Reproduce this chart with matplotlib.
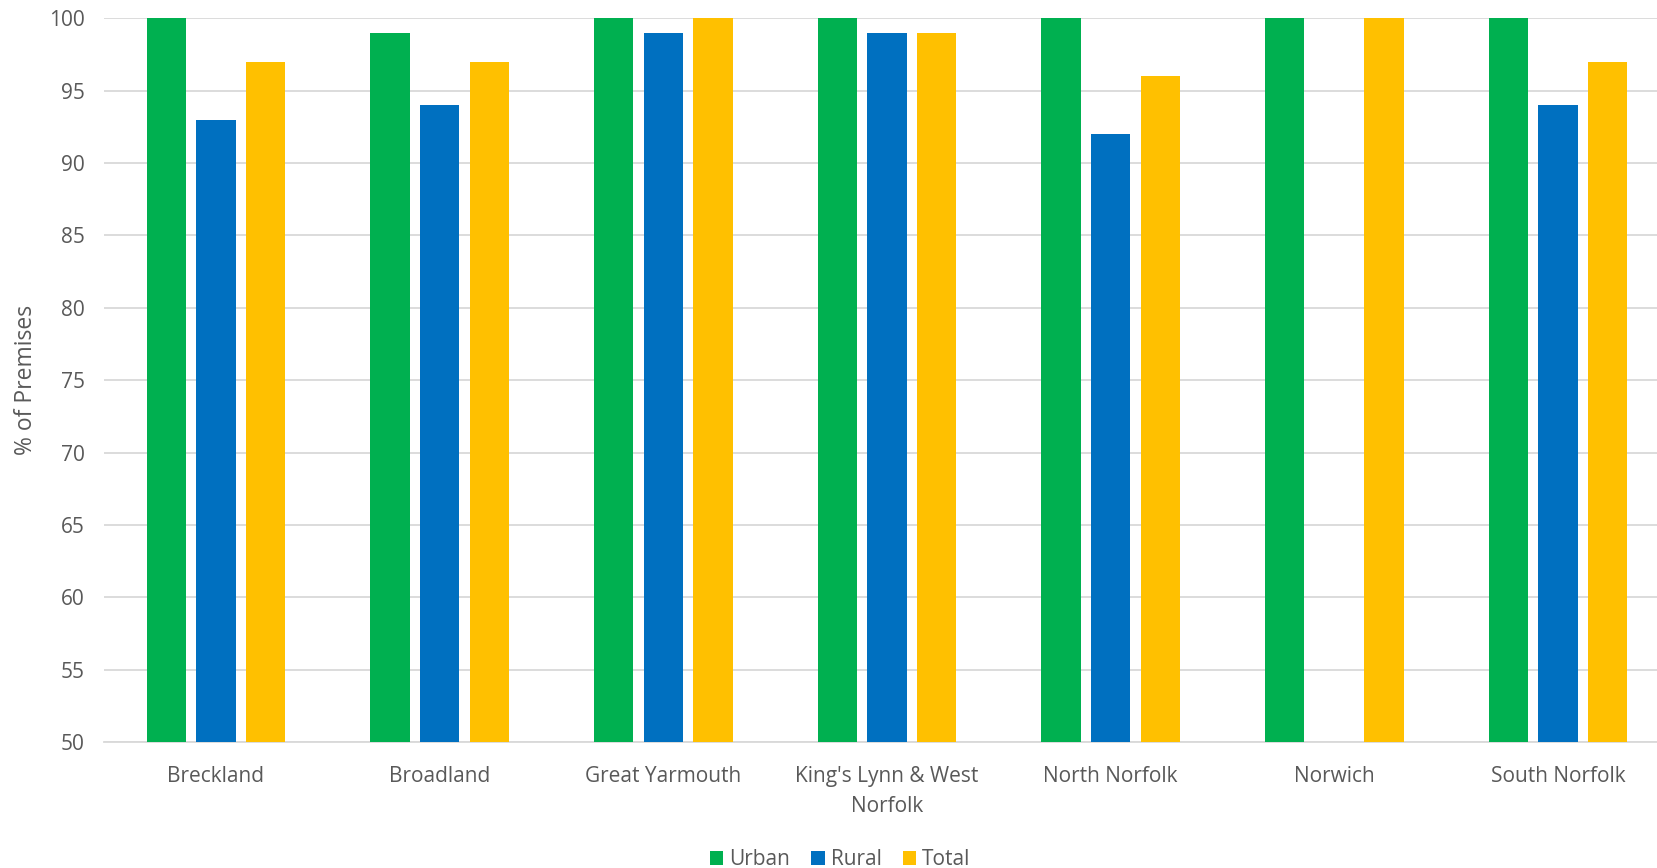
import numpy as np
import matplotlib
matplotlib.use("Agg")
import matplotlib.pyplot as plt

plt.rcParams['font.family'] = ['Open Sans', 'DejaVu Sans']

districts = ["Breckland", "Broadland", "Great Yarmouth", "King's Lynn & West\nNorfolk",
             "North Norfolk", "Norwich", "South Norfolk"]
urban = [100, 99, 100, 100, 100, 100, 100]
rural = [93, 94, 99, 99, 92, np.nan, 94]
total = [97, 97, 100, 99, 96, 100, 97]

series = [("Urban", urban, "#00B050"), ("Rural", rural, "#0070C0"), ("Total", total, "#FFC000")]
grey = "#595959"

fig = plt.figure(figsize=(16.57, 8.68), dpi=100)
ax = fig.add_axes([0.0628, 0.145, 0.945, 0.834])

x = np.arange(len(districts))
w = 0.176
step = 0.222
for k, (name, vals, col) in enumerate(series):
    ax.bar(x + (k - 1) * step, vals, width=w, color=col, label=name, zorder=3)

ax.set_xlim(-0.5, len(districts) - 0.5)
ax.set_ylim(50, 100)
ax.set_yticks(np.arange(50, 101, 5))
ax.yaxis.grid(True, color="#D9D9D9", linewidth=1.3, zorder=0)
ax.set_xticks(x)
ax.set_xticklabels(districts, fontsize=15, color=grey, linespacing=1.6)
ax.tick_params(axis="y", labelsize=15, labelcolor=grey, length=0, pad=14)
ax.tick_params(axis="x", length=0, pad=17)
for s in ["top", "right", "left"]:
    ax.spines[s].set_visible(False)
ax.spines["bottom"].set_color("#D9D9D9")
ax.spines["bottom"].set_linewidth(1.3)

ax.set_ylabel("% of Premises", fontsize=16.5, color=grey, labelpad=8)

fig.legend(loc="lower center", ncol=3, bbox_to_anchor=(0.507, -0.024), frameon=False,
           fontsize=15, labelcolor=grey, handlelength=0.65, handleheight=0.65,
           handletextpad=0.3, columnspacing=1.0)

fig.savefig("out.png", dpi=100)
